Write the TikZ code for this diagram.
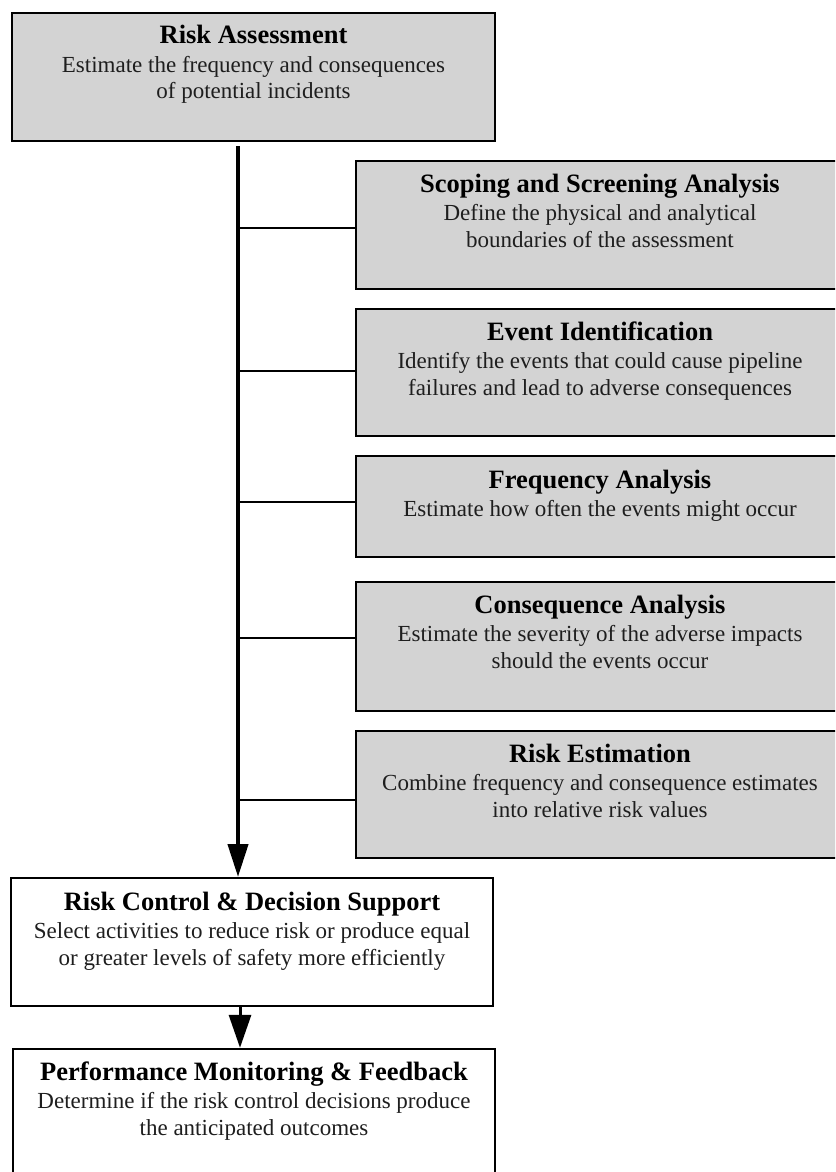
\documentclass[tikz,border=0pt]{standalone}
\usepackage{fontspec}
\setmainfont{Liberation Serif}
\usetikzlibrary{arrows.meta}
\definecolor{boxgray}{RGB}{211,211,211}
\definecolor{bodyink}{RGB}{30,30,30}
\newcommand\headline[1]{{\fontsize{26.5}{28}\selectfont\bfseries\color{black}#1}\\[1pt]}
\begin{document}
\begin{tikzpicture}[x=1pt,y=-1pt,
  panel/.style={draw=black, line width=2.4pt, rectangle, inner sep=0pt},
  shaded/.style={panel, fill=boxgray, minimum width=487.6pt},
  plain/.style={panel, fill=white, minimum width=481.6pt},
  caption/.style={align=center, anchor=base, inner sep=0pt, text=bodyink,
    font=\fontsize{23}{27}\selectfont},
  spine/.style={line width=4.2pt},
  branch/.style={line width=2.2pt},
  bighead/.style={-{Triangle[length=33pt,width=20pt]}}]

\useasboundingbox (0,0) rectangle (835,1172);
\clip (0,0) rectangle (835,1172);

% boxes (captions are anchored at the baseline of their last line)
\node[panel, fill=boxgray, minimum width=482.6pt, minimum height=127.6pt] (ra) at (253.5,77) {};
\node[plain, minimum height=127.6pt] (rc) at (252,942) {};
\node[plain, minimum height=130pt] (pm) at (254,1114) {};
\node[shaded, minimum height=127.6pt] (s1) at (600,225) {};
\node[shaded, minimum height=126.6pt] (s2) at (600,372.5) {};
\node[shaded, minimum height=100.6pt] (s3) at (600,506.5) {};
\node[shaded, minimum height=128.6pt] (s4) at (600,646.5) {};
\node[shaded, minimum height=126.6pt] (s5) at (600,794.5) {};

% captions
\node[caption] (ra-t) at (253.5,99) {\headline{Risk Assessment}Estimate the frequency and consequences\\of potential incidents};
\node[caption] (rc-t) at (252,965) {\headline{Risk Control \& Decision Support}Select activities to reduce risk or produce equal\\or greater levels of safety more efficiently};
\node[caption] (pm-t) at (254,1135) {\headline{Performance Monitoring \& Feedback}Determine if the risk control decisions produce\\the anticipated outcomes};
\node[caption] (s1-t) at (600,247) {\headline{Scoping and Screening Analysis}Define the physical and analytical\\boundaries of the assessment};
\node[caption] (s2-t) at (600,395) {\headline{Event Identification}Identify the events that could cause pipeline\\failures and lead to adverse consequences};
\node[caption] (s3-t) at (600,516) {\headline{Frequency Analysis}Estimate how often the events might occur};
\node[caption] (s4-t) at (600,668) {\headline{Consequence Analysis}Estimate the severity of the adverse impacts\\should the events occur};
\node[caption] (s5-t) at (600,817) {\headline{Risk Estimation}Combine frequency and consequence estimates\\into relative risk values};

% spine and branches
\coordinate (sx) at (238,0);
\coordinate (b1) at (0,228);
\coordinate (b2) at (0,371);
\coordinate (b3) at (0,502);
\coordinate (b4) at (0,638);
\coordinate (b5) at (0,800);
\coordinate (ax) at (240,0);

\foreach \s/\b in {s1/b1,s2/b2,s3/b3,s4/b4,s5/b5}
  \draw[branch] (sx |- \b) -- (\s.west |- \b);

\draw[spine, bighead] ([yshift=-4pt]ra.south -| sx) -- (rc.north -| sx);
\draw[line width=3pt, -{Triangle[length=33pt,width=22pt]}] (rc.south -| ax) -- (pm.north -| ax);
\end{tikzpicture}
\end{document}
